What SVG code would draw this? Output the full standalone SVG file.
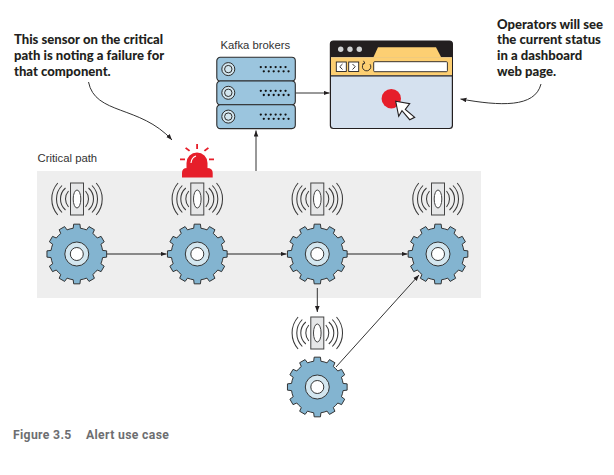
<svg xmlns="http://www.w3.org/2000/svg" width="614" height="475" viewBox="0 0 614 475">
<style>
.note{font-family:"Lato","Open Sans",sans-serif;font-weight:900;font-size:13.1px;fill:#231f20}
.lbl{font-family:"Liberation Sans",Arial,sans-serif;font-size:11.3px;fill:#333}
.cap{font-family:"Roboto","Liberation Sans",sans-serif;font-weight:700;font-size:12.2px;fill:#6d6e71;letter-spacing:.35px}
.line{fill:none;stroke:#333;stroke-width:1}
.flow{fill:none;stroke:#666;stroke-width:1.5}
.arc{fill:none;stroke:#3a3a3a;stroke-width:1.05}
.o{stroke:#2b2b2b;stroke-width:.95}
</style>
<defs>
<marker id="ah" markerWidth="7" markerHeight="6" refX="6" refY="2.5" orient="auto" markerUnits="userSpaceOnUse"><path d="M0,0.2L6,2.500L0,4.800z" fill="#231f20"/></marker>
<g id="gear">
<path class="o" fill="#83b4d0" d="M25.75,-3.62L29.84,-3.14L29.84,3.14L25.75,3.62A26,26 0 0 1 24.11,9.74L27.41,12.2L24.27,17.63L20.49,16.01A26,26 0 0 1 16.01,20.49L17.63,24.27L12.2,27.41L9.74,24.11A26,26 0 0 1 3.62,25.75L3.14,29.84L-3.14,29.84L-3.62,25.75A26,26 0 0 1 -9.74,24.11L-12.2,27.41L-17.63,24.27L-16.01,20.49A26,26 0 0 1 -20.49,16.01L-24.27,17.63L-27.41,12.2L-24.11,9.74A26,26 0 0 1 -25.75,3.62L-29.84,3.14L-29.84,-3.14L-25.75,-3.62A26,26 0 0 1 -24.11,-9.74L-27.41,-12.2L-24.27,-17.63L-20.49,-16.01A26,26 0 0 1 -16.01,-20.49L-17.63,-24.27L-12.2,-27.41L-9.74,-24.11A26,26 0 0 1 -3.62,-25.75L-3.14,-29.84L3.14,-29.84L3.62,-25.75A26,26 0 0 1 9.74,-24.11L12.2,-27.41L17.63,-24.27L16.01,-20.49A26,26 0 0 1 20.49,-16.01L24.27,-17.63L27.41,-12.2L24.11,-9.74A26,26 0 0 1 25.75,-3.62Z"/>
<circle r="12" fill="#d3e6ef" class="o"/>
<circle r="6.500" fill="#fff" class="o"/>
</g>
<g id="sensor">
<rect x="-6.500" y="-16" width="13" height="32" fill="#e6e7e8" stroke="#444" stroke-width="1"/>
<ellipse rx="3.800" ry="9" fill="#fff" stroke="#444" stroke-width="1"/>
<path class="arc" d="M-8.500,-8A12.200,12.200 0 0 0 -8.500,8M8.500,-8A12.200,12.200 0 0 1 8.500,8M-11.500,-11A14.600,14.600 0 0 0 -11.500,11M11.500,-11A14.600,14.600 0 0 1 11.500,11M-15,-13.500A19.300,19.300 0 0 0 -15,13.500M15,-13.500A19.300,19.300 0 0 1 15,13.500M-19.200,-16A24.300,24.300 0 0 0 -19.200,16M19.200,-16A24.300,24.300 0 0 1 19.200,16"/>
</g>
<g id="srv">
<rect x="0" y="0" width="78.500" height="23.800" rx="3.500" fill="#9bc5de" stroke="#2b2b2b" stroke-width="1.100"/>
<circle cx="11.500" cy="11.800" r="6.500" fill="#d3e6ef" stroke="#2b2b2b" stroke-width="1"/>
<circle cx="11.500" cy="11.800" r="3.700" fill="none" stroke="#2b2b2b" stroke-width="1"/>
<path d="M44,9.800h26M47,14h26" fill="none" stroke="#111" stroke-width="2.300" stroke-linecap="round" stroke-dasharray="0 4.950"/>
</g>
</defs>
<rect x="0" y="0" width="614" height="475" fill="#fff"/>
<rect id="critical-path-band" x="37" y="171" width="444" height="127" fill="#eeeeee"/>
<g id="connectors">
<path class="flow" d="M107,254H166.500" marker-end="url(#ah)"/>
<path class="flow" d="M227,254H286.500" marker-end="url(#ah)"/>
<path class="flow" d="M347,254H407.500" marker-end="url(#ah)"/>
<path class="line" d="M317.300,288V312" marker-end="url(#ah)"/>
<path class="line" d="M336,367L419,275" marker-end="url(#ah)"/>
<path class="line" d="M256,171V130.500" marker-end="url(#ah)"/>
<path class="line" d="M295.500,93H329.500" marker-end="url(#ah)"/>
<path class="line" d="M88.500,82C95,115 140,105 172,140" marker-end="url(#ah)"/>
<path class="line" d="M541,84C535,108 500,106 460.500,99" marker-end="url(#ah)"/>
</g>
<g id="sensor-1"><use href="#sensor" x="77" y="199"/></g>
<g id="sensor-2"><use href="#sensor" x="197.300" y="199"/></g>
<g id="sensor-3"><use href="#sensor" x="317.300" y="199"/></g>
<g id="sensor-4"><use href="#sensor" x="438" y="199"/></g>
<g id="sensor-5"><use href="#sensor" x="317.300" y="333"/></g>
<g id="gear-1"><use href="#gear" x="76.800" y="254"/></g>
<g id="gear-2"><use href="#gear" x="197.300" y="254"/></g>
<g id="gear-3"><use href="#gear" x="317.300" y="254"/></g>
<g id="gear-4"><use href="#gear" x="438" y="254"/></g>
<g id="gear-5"><use href="#gear" x="317.300" y="387"/></g>
<g id="alert" fill="#e61e2a">
<path d="M186.500,168V163A10.500,10.500 0 0 1 207.500,163V168Z"/>
<path d="M182,177.500V173Q182,168 187,168H207Q212.700,168 212.700,173V177.500Z"/>
<path d="M196.200,144h1.800v5h-1.800zM180,158.500h5v1.800h-5zM209,158.500h5v1.800h-5z"/>
<path d="M185,148.500l1.200-1.200l4,3l-1.200,1.300zM209,148.500l-1.200-1.200l-4,3l1.200,1.300z"/>
<path d="M191,163Q191.500,157.500 196,156" fill="none" stroke="#fff" stroke-width="1.200"/>
</g>
<g id="kafka-brokers">
<use href="#srv" x="216.800" y="57.300"/>
<use href="#srv" x="216.800" y="81"/>
<use href="#srv" x="216.800" y="104.800"/>
</g>
<g id="browser">
<rect x="330.400" y="41" width="122" height="87.500" rx="3" fill="#d5e1ef" stroke="#231f20" stroke-width="1.200"/>
<path d="M330.400,57.300V44a3,3 0 0 1 3-3h116a3,3 0 0 1 3,3V57.300Z" fill="#231f20"/>
<rect x="331" y="57.300" width="121" height="18" fill="#fdcf72"/>
<path d="M373.300,57.500L378,47.300H436L441.300,57.500Z" fill="#fdcf72"/>
<path d="M331,75.800H452" stroke="#231f20" stroke-width="1.200"/>
<circle cx="340.700" cy="49.300" r="2.700" fill="#d1d3d4"/><circle cx="350" cy="49.300" r="2.700" fill="#d1d3d4"/><circle cx="359.300" cy="49.300" r="2.700" fill="#d1d3d4"/>
<rect x="336.300" y="62" width="10" height="9.500" fill="#fff" stroke="#231f20" stroke-width=".9"/>
<rect x="348.700" y="62" width="10" height="9.500" fill="#fff" stroke="#231f20" stroke-width=".9"/>
<path d="M342.500,64L339.800,66.700L342.500,69.500M352.500,64L355.200,66.700L352.500,69.500" fill="none" stroke="#231f20" stroke-width=".9"/>
<path d="M370,64.200A4.200,4.200 0 1 1 364.500,63M363.500,60.800L364.800,63.200L362.200,64.200" fill="none" stroke="#231f20" stroke-width=".9"/>
<rect x="373.700" y="61.700" width="73.700" height="10" rx="1" fill="#fff" stroke="#231f20" stroke-width=".9"/>
<circle cx="391.300" cy="98.700" r="9.700" fill="#e61e2a"/>
<path d="M395.700,101.300L409.700,103.700L405.300,109.300L414.700,117.300L409.700,119.700L402,110.700L398.700,116.300Z" fill="#fff" stroke="#231f20" stroke-width="1.100"/>
</g>
<text class="note" x="14" y="44.300">This sensor on the critical</text>
<text class="note" x="14" y="60">path is noting a failure for</text>
<text class="note" x="14" y="75.600">that component.</text>
<text class="note" x="497" y="28.800">Operators will see</text>
<text class="note" x="497" y="44.300">the current status</text>
<text class="note" x="497" y="60">in a dashboard</text>
<text class="note" x="497" y="75.600">web page.</text>
<text class="lbl" x="220.500" y="49">Kafka brokers</text>
<text class="lbl" x="37.500" y="162">Critical path</text>
<text class="cap" x="13" y="438.500">Figure 3.5</text>
<text class="cap" x="86" y="438.500">Alert use case</text>
</svg>
